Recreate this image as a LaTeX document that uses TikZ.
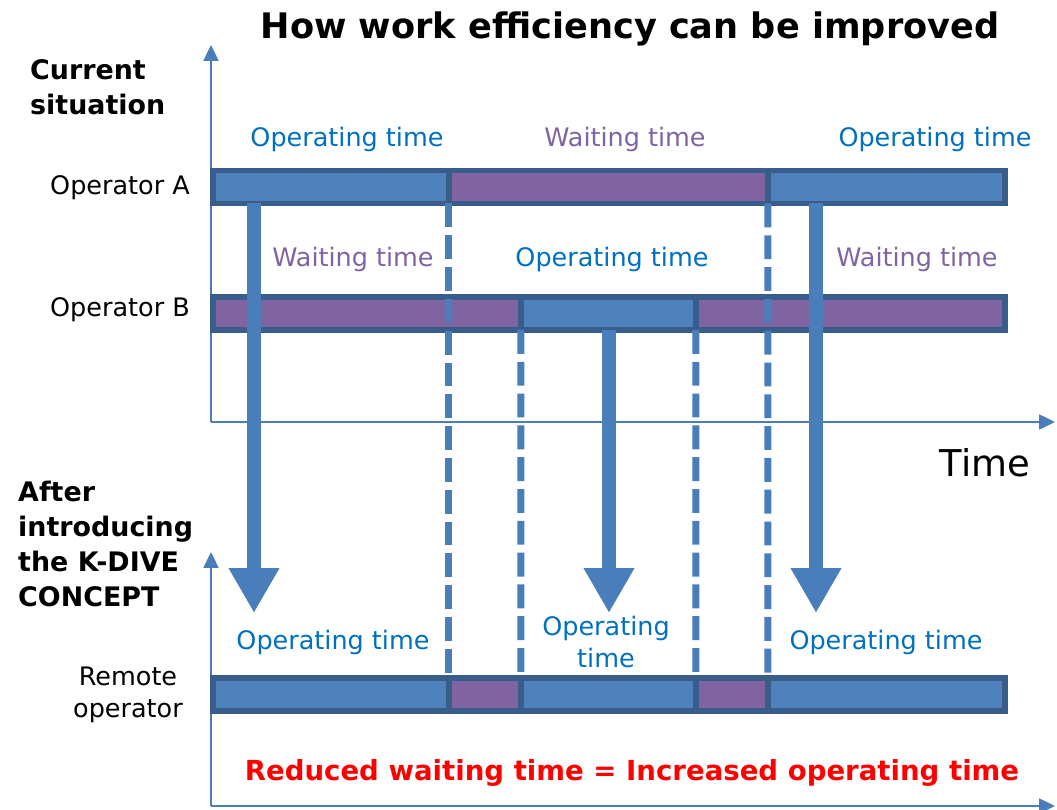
\documentclass[tikz,border=0pt]{standalone}
\usepackage{fontspec}
\setmainfont{DejaVu Sans}
\usetikzlibrary{positioning,arrows.meta}
\definecolor{opblue}{HTML}{4F81BD}
\definecolor{waitpurple}{HTML}{8064A2}
\definecolor{barline}{HTML}{385D8A}
\definecolor{arrowblue}{HTML}{4A7EBB}
\definecolor{labelblue}{HTML}{0070C0}

\begin{document}
\begin{tikzpicture}[x=0.02cm,y=-0.02cm,
                seg/.style={rectangle,draw=barline,line width=3.1pt,outer sep=0pt,inner sep=0pt,minimum height=0.66cm},
                op/.style={seg,fill=opblue},
                wait/.style={seg,fill=waitpurple},
                label/.style={font=\fontsize{14.5}{18}\selectfont,align=center},
                oplabel/.style={label,text=labelblue},
                waitlabel/.style={label,text=waitpurple},
                head/.style={font=\bfseries\fontsize{15.3}{20}\selectfont,align=left,anchor=west},
                axis/.style={color=arrowblue,line width=1.1pt,-{Triangle[width=8.5pt,length=9pt]}},
                dash line/.style={color=arrowblue,line width=4pt,dash pattern=on 13.6pt off 4.5pt},
                big arrow/.style={color=arrowblue,line width=8.5pt,-{Triangle[width=27pt,length=25.5pt]}}]
                \useasboundingbox (0,0) rectangle (1057,810);

                \node[font=\bfseries\fontsize{20}{24}\selectfont] (title) at (630,29) {How work efficiency can be improved};
                \node[head] (now) at (24,87) {Current\\situation};
                \node[head] (after) at (12,544) {After\\introducing\\the K-DIVE\\CONCEPT};

                \coordinate (o1) at (211,422);
                \coordinate (y1) at (211,45);
                \coordinate (x1) at (1055,422);
                \coordinate (o2) at (211,806);
                \coordinate (y2) at (211,552);
                \coordinate (x2) at (1055,806);
                \path[axis]
                    (o1) edge (y1)
                    (o1) edge (x1)
                    (o2) edge (y2)
                    (o2) edge (x2)
                ;
                \node[font=\fontsize{21}{24}\selectfont] (time) at (985,463) {Time};

                \node[label] (opa) at (120,188) {Operator A};
                \node[label] (opb) at (120,310) {Operator B};
                \node[label] (rem) at (128,695) {Remote\\operator};

                \node[op,minimum width=4.72cm,anchor=west] (a1) at (213,187) {};
                \node[wait,minimum width=6.38cm,right=0pt of a1] (a2) {};
                \node[op,minimum width=4.74cm,right=0pt of a2] (a3) {};

                \node[wait,minimum width=6.16cm,anchor=west] (b1) at (213,313.5) {};
                \node[op,minimum width=3.5cm,right=0pt of b1] (b2) {};
                \node[wait,minimum width=6.18cm,right=0pt of b2] (b3) {};

                \node[op,minimum width=4.72cm,anchor=west] (r1) at (213,694.5) {};
                \node[wait,minimum width=1.44cm,right=0pt of r1] (r2) {};
                \node[op,minimum width=3.5cm,right=0pt of r2] (r3) {};
                \node[wait,minimum width=1.44cm,right=0pt of r3] (r4) {};
                \node[op,minimum width=4.74cm,right=0pt of r4] (r5) {};

                \node[oplabel] (ta1) at (347,139) {Operating time};
                \node[waitlabel] (ta2) at (625,139) {Waiting time};
                \node[oplabel] (ta3) at (935,139) {Operating time};
                \node[waitlabel] (tb1) at (353,259) {Waiting time};
                \node[oplabel] (tb2) at (612,259) {Operating time};
                \node[waitlabel] (tb3) at (917,259) {Waiting time};
                \node[oplabel] (tr1) at (333,642) {Operating time};
                \node[oplabel] (tr2) at (606,642) {Operating\\time};
                \node[oplabel] (tr3) at (886,642) {Operating time};

                \path[dash line]
                    (a1.south east) edge (r1.north east)
                    (b1.south east) edge (r2.north east)
                    (b2.south east) edge (r3.north east)
                    (a2.south east) edge (r4.north east)
                ;

                \coordinate (tip1) at (254,613);
                \coordinate (tip2) at (609,613);
                \coordinate (tip3) at (816,613);
                \path[big arrow]
                    (a1.south -| tip1) edge (tip1)
                    (b2.south -| tip2) edge (tip2)
                    (a3.south -| tip3) edge (tip3)
                ;

                \node[font=\bfseries\fontsize{15.7}{19}\selectfont,text=red] (result) at (632,773) {Reduced waiting time = Increased operating time};
            \end{tikzpicture}
\end{document}
